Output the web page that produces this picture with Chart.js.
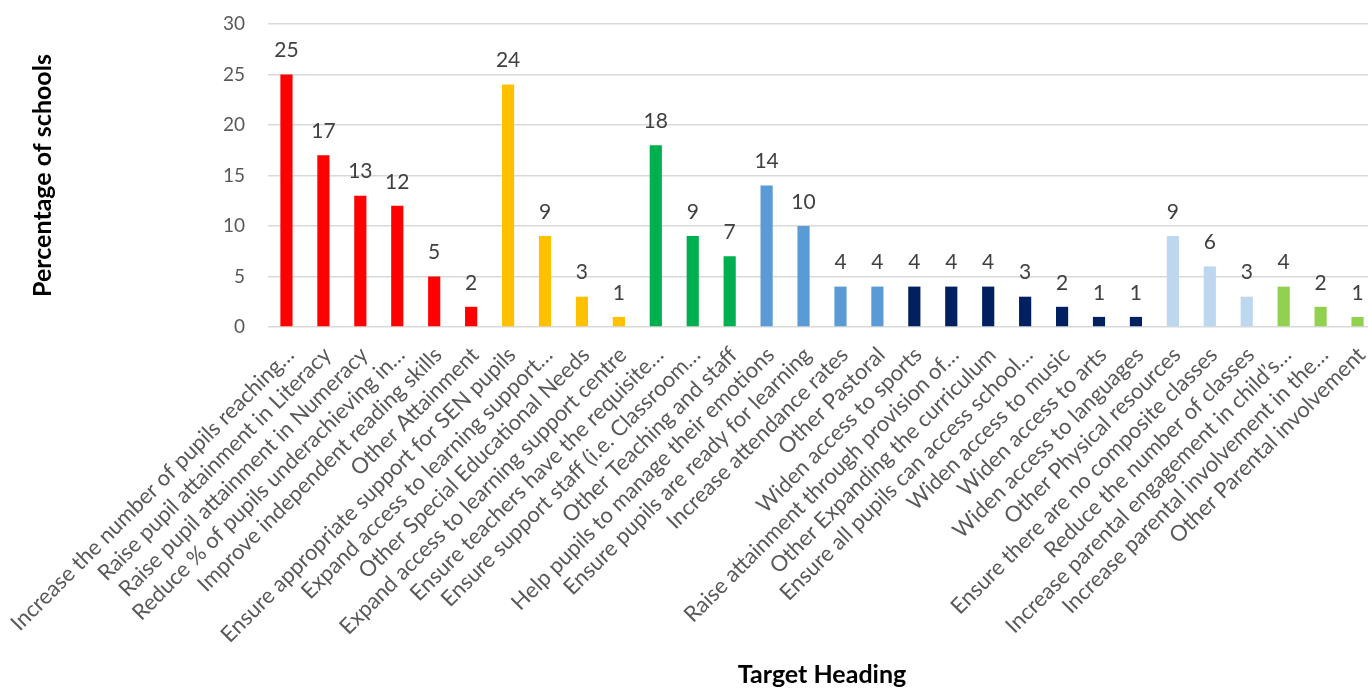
<!DOCTYPE html>
<html>
<head>
<meta charset="utf-8">
<script src="https://cdn.jsdelivr.net/npm/chart.js@4.4.1/dist/chart.umd.min.js"></script>
<style>
  html, body { margin: 0; padding: 0; background: #fff; overflow: hidden; }
  #wrap { width: 1376px; height: 690px; }
</style>
</head>
<body>
<div id="wrap"><canvas id="targets"></canvas></div>
<script>
// target headings, grouped by theme
const attainment = ['Increase the number of pupils reaching…', 'Raise pupil attainment in Literacy',
  'Raise pupil attainment in Numeracy', 'Reduce % of pupils underachieving in…',
  'Improve independent reading skills', 'Other Attainment'];
const senLabels = ['Ensure appropriate support for SEN pupils', 'Expand access to learning support…',
  'Other Special Educational Needs', 'Expand access to learning support centre'];
const staffLabels = ['Ensure teachers have the requisite…', 'Ensure support staff (i.e. Classroom…',
  'Other Teaching and staff'];
const pastoralLabels = ['Help pupils to manage their emotions', 'Ensure pupils are ready for learning',
  'Increase attendance rates', 'Other Pastoral'];
const curriculumLabels = ['Widen access to sports', 'Raise attainment through provision of…',
  'Other Expanding the curriculum', 'Ensure all pupils can access school…', 'Widen access to music',
  'Widen access to arts', 'Widen access to languages'];
const resourceLabels = ['Other Physical resources', 'Ensure there are no composite classes',
  'Reduce the number of classes'];
const parentLabels = ['Increase parental engagement in child’s…', 'Increase parental involvement in the…',
  'Other Parental involvement'];

// percentage of schools per heading
const attainmentVals = [25, 17, 13, 12, 5, 2];
const senVals = [24, 9, 3, 1];
const staffVals = [18, 9, 7];
const pastoralVals = [14, 10, 4, 4];
const curriculumVals = [4, 4, 4, 3, 2, 1, 1];
const resourceVals = [9, 6, 3];
const parentVals = [4, 2, 1];

const yTicks = [0, 5, 10, 15, 20, 25, 30];

const groups = [
  [attainment, attainmentVals, '#FF0000'],
  [senLabels, senVals, '#FFC000'],
  [staffLabels, staffVals, '#00B050'],
  [pastoralLabels, pastoralVals, '#5B9BD5'],
  [curriculumLabels, curriculumVals, '#002060'],
  [resourceLabels, resourceVals, '#BDD7EE'],
  [parentLabels, parentVals, '#92D050']
];

const labels = [], values = [], colours = [];
groups.forEach(([l, v, c]) => {
  l.forEach((name, i) => { labels.push(name); values.push(v[i]); colours.push(c); });
});

// values above each bar
const barValues = {
  id: 'barValues',
  afterDatasetsDraw(chart) {
    const ctx = chart.ctx;
    const meta = chart.getDatasetMeta(0);
    ctx.save();
    ctx.font = '21px Lato';
    ctx.fillStyle = '#404040';
    ctx.textAlign = 'center';
    ctx.textBaseline = 'middle';
    meta.data.forEach((bar, i) => {
      ctx.fillText(values[i], bar.x, bar.y - 24);
    });
    ctx.restore();
  }
};

new Chart(document.getElementById('targets'), {
  type: 'bar',
  data: {
    labels: labels,
    datasets: [{
      data: values,
      backgroundColor: colours,
      barPercentage: 0.33,
      categoryPercentage: 1
    }]
  },
  options: {
    responsive: true,
    maintainAspectRatio: false,
    animation: false,
    layout: { padding: { top: 24, left: 0, right: 0, bottom: 0 } },
    plugins: { legend: { display: false }, tooltip: { enabled: false } },
    scales: {
      x: {
        grid: { display: false, drawTicks: false },
        border: { display: false },
        ticks: {
          autoSkip: false, minRotation: 45, maxRotation: 45,
          padding: 15,
          labelOffset: 4,
          color: '#595959',
          font: { family: 'Lato', size: 22 }
        },
        title: {
          display: true, text: 'Target Heading', color: '#000',
          font: { family: 'Lato', size: 25, weight: 'bold' },
          padding: { top: 0, bottom: 0 }
        },
        afterFit(scale) {
          scale.paddingLeft = 0;
          scale.paddingRight = 0;
          scale.height = 363;
        }
      },
      y: {
        min: 0, max: 30,
        afterBuildTicks(scale) { scale.ticks = yTicks.map(v => ({ value: v })); },
        grid: { color: '#D9D9D9', lineWidth: 1.5, drawTicks: false },
        border: { display: false },
        ticks: { padding: 23, color: '#595959', font: { family: 'Lato', size: 19 } },
        title: {
          display: true, text: 'Percentage of schools', color: '#000',
          font: { family: 'Lato', size: 25, weight: 'bold' },
          padding: { top: 28, bottom: 0 }
        },
        afterFit(scale) {
          scale.width = 268;
          scale.paddingTop = 0;
          scale.paddingBottom = 0;
        }
      }
    }
  },
  plugins: [barValues]
});
</script>
</body>
</html>
